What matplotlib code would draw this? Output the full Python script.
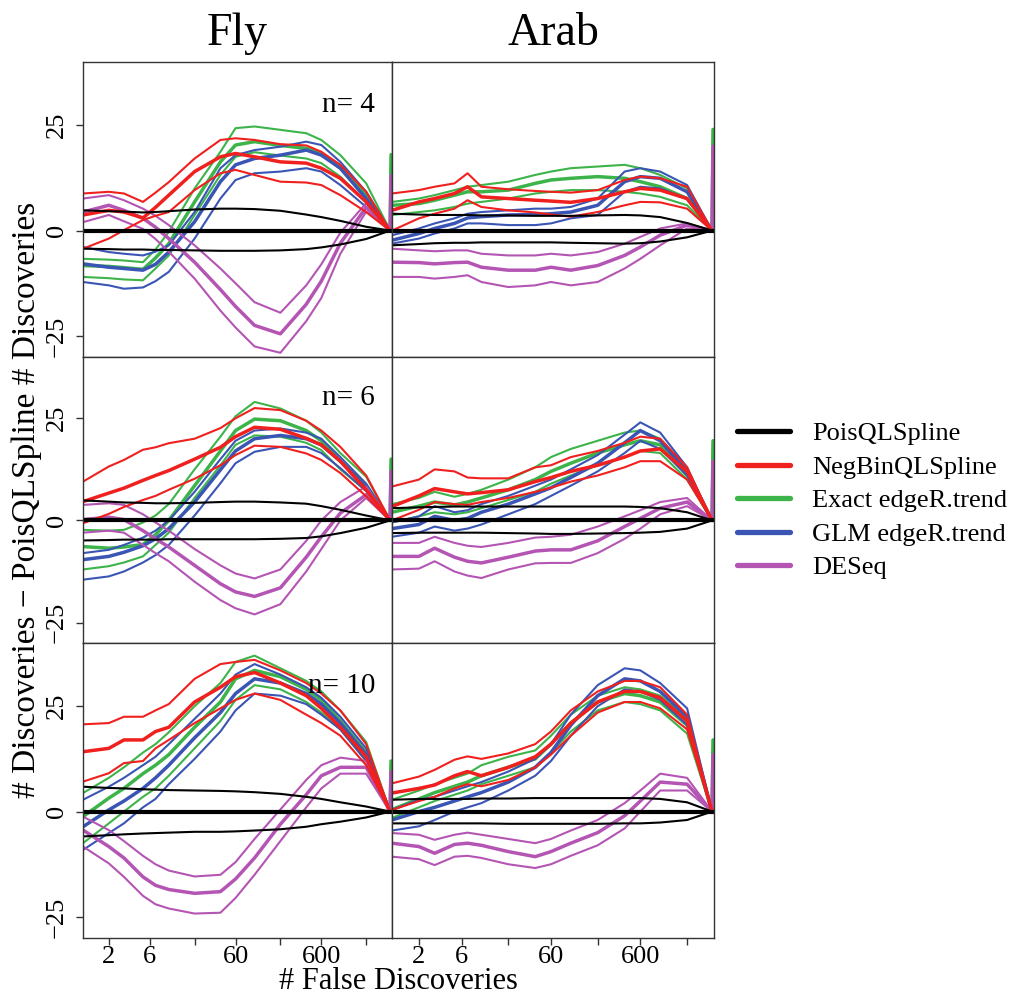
import numpy as np
import matplotlib
matplotlib.use("Agg")
import matplotlib.pyplot as plt
from matplotlib.lines import Line2D
from matplotlib.ticker import NullLocator, FixedLocator, FixedFormatter

plt.rcParams["font.family"] = ["Liberation Serif", "DejaVu Serif"]

# ---------------------------------------------------------------- data
# number of false discoveries at which the curves are evaluated
FDR_GRID = [1, 2, 3, 5, 7, 10, 20, 40, 60, 100, 200, 400, 600, 1000, 2000, 3800]
SPIKE_X = 3900

METHODS = ["PoisQLSpline", "NegBinQLSpline", "Exact edgeR.trend",
           "GLM edgeR.trend", "DESeq"]
COLORS = ["#000000", "#F0201E", "#3CB44A", "#3A55B4", "#B455B4"]
SPECIES = ["Fly", "Arab"]
SAMPLE_SIZES = [4, 6, 10]
X_TICKS = [2, 6, 20, 60, 200, 600, 2000]
X_TICK_LABELS = ["2", "6", "", "60", "", "600", ""]
Y_TICKS = [-25, 0, 25]
Y_TICK_LABELS = ["\u221225", "0", "25"]

# difference in discoveries vs PoisQLSpline: (upper, middle, lower) curves
# PoisQLSpline itself only has (upper, lower); its middle curve is zero.
# spike = end-of-list values for (Exact edgeR.trend, DESeq)

# Fly, n = 4
fly4_pois = ([4.8, 4.6, 4.5, 4.3, 4.4, 4.6, 5.0, 5.2, 5.2, 5.1, 4.7, 3.8, 3.2, 2.3, 0.9, 0],
             [-4.3, -4.4, -4.5, -4.5, -4.6, -4.6, -4.7, -4.8, -4.8, -4.8, -4.7, -4.4, -4.0, -3.3, -2.0, 0])
fly4_negbin = ([8.8, 9.2, 8.8, 6.8, 9.0, 11.5, 17.1, 21.5, 21.9, 21.5, 20.5, 20.2, 18.7, 15.6, 9.2, 0],
               [3.7, 4.8, 4.4, 3.0, 5.5, 8.4, 14.0, 17.5, 18.3, 17.5, 16.3, 16.0, 14.8, 12.4, 6.8, 0],
               [-4.3, -1.9, 0.1, 2.5, 3.5, 4.4, 9.6, 13.6, 14.4, 13.2, 11.6, 11.4, 10.8, 8.4, 4.4, 0])
fly4_exact = ([-6.7, -6.9, -7.1, -7.5, -4.5, -0.3, 10.0, 18.7, 24.3, 24.7, 23.9, 23.1, 21.5, 17.9, 11.2, 0],
              [-8.3, -8.5, -8.8, -9.2, -6.5, -3.1, 6.8, 16.3, 20.3, 21.1, 20.2, 19.5, 18.3, 14.8, 8.4, 0],
              [-11.0, -11.3, -11.6, -11.8, -9.0, -5.9, 3.7, 13.2, 17.5, 18.6, 17.8, 17.1, 16.0, 12.8, 6.8, 0])
fly4_glm = ([-3.9, -5.1, -5.5, -5.9, -5.0, -3.5, 4.4, 14.8, 17.9, 19.1, 19.9, 21.1, 20.3, 16.3, 9.2, 0],
            [-7.9, -8.7, -9.0, -9.4, -8.0, -5.1, 2.1, 11.6, 15.6, 17.1, 17.9, 19.1, 17.9, 14.8, 7.6, 0],
            [-12.2, -13.0, -13.8, -13.5, -12.0, -9.8, -1.9, 7.6, 12.0, 13.6, 14.0, 14.8, 14.0, 10.8, 5.6, 0])
fly4_deseq = ([7.6, 8.4, 7.2, 5.2, 3.5, 1.3, -3.5, -9.0, -12.5, -17.0, -19.5, -13.0, -8.0, -0.5, 6.5, 0],
              [4.4, 6.0, 4.8, 2.9, 0.8, -1.9, -7.5, -14.0, -18.0, -22.5, -24.5, -17.5, -12.0, -3.0, 5.5, 0],
              [2.0, 3.7, 2.2, 0.4, -2.0, -5.0, -11.4, -19.0, -23.0, -27.5, -29.0, -21.5, -16.0, -5.5, 4.5, 0])
fly4_spike = (18.0, 13.0)

# Arab, n = 4
arab4_pois = ([4.0, 3.8, 3.7, 3.7, 3.7, 3.6, 3.6, 3.5, 3.5, 3.5, 3.6, 3.7, 3.6, 3.2, 1.8, 0],
              [-3.5, -3.2, -3.0, -2.9, -2.9, -2.8, -2.8, -2.8, -2.8, -2.9, -3.0, -3.1, -3.0, -2.6, -1.6, 0])
arab4_negbin = ([8.8, 9.6, 10.4, 11.2, 13.6, 10.4, 9.8, 9.4, 9.2, 9.0, 9.6, 12.0, 12.8, 12.4, 10.4, 0],
                [4.8, 6.8, 7.6, 8.8, 10.4, 8.0, 7.6, 7.2, 7.0, 6.7, 7.6, 9.2, 10.0, 9.6, 7.6, 0],
                [0.0, 2.9, 4.0, 5.2, 7.2, 5.6, 4.8, 4.3, 3.8, 3.3, 4.4, 6.0, 6.8, 6.7, 5.2, 0])
arab4_exact = ([6.8, 7.6, 8.4, 9.6, 10.4, 10.8, 11.6, 13.2, 14.0, 14.8, 15.2, 15.6, 14.8, 13.2, 10.0, 0],
               [6.0, 6.4, 7.2, 8.4, 9.2, 9.2, 9.6, 11.2, 12.0, 12.4, 12.8, 12.4, 11.6, 10.4, 7.6, 0],
               [3.7, 4.4, 4.8, 5.6, 6.4, 6.8, 7.6, 8.8, 9.2, 9.6, 9.6, 9.2, 8.8, 8.0, 6.0, 0])
arab4_glm = ([-1.1, 0.5, 1.7, 2.9, 4.0, 4.4, 4.8, 5.2, 5.2, 5.6, 7.6, 14.0, 14.8, 14.0, 10.8, 0],
             [-2.3, -0.7, 0.5, 1.7, 3.0, 3.3, 3.7, 3.8, 4.0, 4.4, 6.0, 11.6, 12.8, 12.4, 9.2, 0],
             [-3.1, -1.9, -0.7, 0.5, 1.7, 1.7, 1.3, 1.3, 1.7, 2.9, 3.7, 9.2, 10.4, 10.0, 7.6, 0])
arab4_deseq = ([-4.3, -4.7, -4.9, -4.7, -4.7, -5.5, -5.9, -5.9, -5.5, -5.9, -5.1, -3.1, -1.5, 0.5, 1.7, 0],
               [-7.5, -7.6, -7.9, -7.6, -7.5, -8.7, -9.4, -9.4, -8.7, -9.4, -8.3, -5.9, -3.9, -1.1, 1.3, 0],
               [-11.0, -11.0, -11.4, -11.0, -10.6, -12.2, -13.4, -13.0, -12.2, -13.0, -12.2, -9.0, -6.7, -3.5, 0.5, 0])
arab4_spike = (24.0, 20.0)

# Fly, n = 6
fly6_pois = ([4.9, 4.6, 4.4, 4.3, 4.2, 4.2, 4.3, 4.5, 4.6, 4.6, 4.4, 4.1, 3.5, 2.6, 1.2, 0],
             [-4.9, -4.8, -4.7, -4.7, -4.7, -4.6, -4.6, -4.6, -4.6, -4.6, -4.5, -4.3, -3.9, -3.1, -1.8, 0])
fly6_negbin = ([9.5, 13.2, 14.8, 17.3, 17.9, 18.9, 20.0, 22.6, 25.0, 27.5, 27.0, 24.4, 22.0, 18.0, 11.0, 0],
               [4.6, 6.7, 7.9, 9.8, 11.0, 12.2, 15.0, 17.9, 20.5, 22.8, 22.3, 20.1, 18.5, 14.5, 7.5, 0],
               [-0.7, 1.6, 3.3, 5.0, 6.0, 7.5, 10.2, 13.5, 16.0, 18.3, 18.0, 16.4, 14.8, 11.6, 5.9, 0])
fly6_exact = ([-2.3, -2.5, -2.3, -0.5, 1.2, 4.0, 12.5, 20.5, 25.5, 29.0, 27.4, 24.4, 21.5, 16.5, 10.7, 0],
              [-6.4, -6.8, -6.5, -5.9, -3.5, 0.0, 8.5, 17.0, 22.0, 24.8, 24.4, 22.0, 19.5, 14.5, 8.5, 0],
              [-12.0, -11.2, -10.3, -8.8, -6.0, -3.0, 5.5, 13.5, 18.5, 20.8, 20.5, 19.0, 17.2, 12.5, 7.2, 0])
fly6_glm = ([-8.0, -7.2, -6.0, -4.2, -2.5, 0.0, 7.0, 15.0, 19.5, 22.0, 22.5, 21.5, 20.0, 15.5, 9.0, 0],
            [-9.6, -8.8, -7.8, -6.2, -4.5, -2.0, 4.5, 12.4, 17.0, 20.0, 20.8, 20.0, 18.5, 14.5, 8.0, 0],
            [-14.5, -13.7, -12.5, -10.3, -8.5, -6.0, 1.2, 9.1, 14.0, 16.8, 18.0, 18.0, 16.5, 12.8, 7.2, 0])
fly6_deseq = ([3.8, 4.2, 3.8, 1.5, -0.5, -2.5, -7.0, -11.0, -13.0, -14.2, -12.0, -5.0, 0.0, 4.5, 8.3, 0],
              [0.2, 0.8, 0.2, -2.5, -4.5, -6.5, -11.0, -15.5, -17.5, -18.6, -16.5, -9.0, -4.0, 1.8, 6.3, 0],
              [-3.0, -2.5, -3.0, -6.0, -8.0, -10.0, -15.0, -19.5, -21.5, -23.0, -20.5, -12.5, -7.0, 0.0, 5.5, 0])
fly6_spike = (15.0, 12.0)

# Arab, n = 6
arab6_pois = ([3.0, 3.2, 3.3, 3.4, 3.4, 3.4, 3.4, 3.4, 3.4, 3.4, 3.4, 3.4, 3.3, 3.0, 2.0, 0],
              [-3.1, -3.0, -3.0, -3.0, -3.0, -3.0, -3.1, -3.2, -3.3, -3.3, -3.2, -3.1, -3.0, -2.8, -2.0, 0])
arab6_negbin = ([8.3, 10.0, 12.5, 12.0, 10.5, 10.3, 10.3, 13.0, 13.5, 15.5, 17.0, 19.0, 20.5, 20.0, 13.0, 0],
                [3.4, 6.0, 7.8, 7.0, 6.5, 6.8, 7.5, 9.5, 10.5, 12.0, 13.5, 15.5, 17.0, 17.5, 12.0, 0],
                [0.0, 2.6, 4.5, 4.0, 3.8, 4.5, 5.5, 7.0, 8.0, 9.5, 11.0, 13.0, 14.5, 14.5, 10.0, 0])
arab6_exact = ([4.0, 5.5, 7.0, 5.8, 6.5, 7.5, 10.0, 13.0, 15.5, 17.5, 19.5, 21.5, 22.0, 20.0, 12.0, 0],
               [2.0, 3.5, 4.5, 3.8, 4.5, 5.5, 7.5, 10.0, 12.0, 14.0, 16.5, 18.5, 19.5, 18.5, 11.0, 0],
               [-0.5, 1.0, 2.0, 1.5, 2.0, 3.0, 5.0, 7.0, 9.0, 11.0, 13.5, 15.5, 17.0, 16.5, 10.0, 0])
arab6_glm = ([-0.5, 1.0, 3.5, 2.0, 2.5, 4.0, 6.0, 8.5, 10.0, 12.5, 16.0, 21.0, 24.0, 21.5, 13.0, 0],
             [-2.0, -1.0, 1.0, 0.0, 0.5, 2.0, 4.0, 6.5, 8.0, 10.5, 14.0, 19.0, 22.0, 19.5, 12.0, 0],
             [-4.0, -3.0, -1.5, -2.5, -2.0, -1.0, 1.5, 4.0, 6.0, 8.5, 12.0, 16.5, 19.5, 17.5, 11.0, 0])
arab6_deseq = ([-5.5, -5.5, -4.0, -5.5, -6.2, -6.5, -5.5, -4.2, -4.0, -3.5, -1.5, 1.0, 2.5, 4.5, 5.5, 0],
               [-8.8, -8.8, -6.8, -9.0, -10.0, -10.4, -9.0, -7.5, -7.2, -7.2, -5.0, -1.5, 0.5, 3.0, 4.5, 0],
               [-12.0, -11.8, -10.0, -12.5, -13.5, -14.1, -12.0, -10.5, -10.4, -10.4, -8.0, -4.5, -2.0, 1.5, 3.5, 0])
arab6_spike = (19.5, 14.5)

# Fly, n = 10
fly10_pois = ([5.9, 5.6, 5.5, 5.3, 5.2, 5.1, 5.0, 4.9, 4.8, 4.6, 4.2, 3.5, 3.0, 2.2, 1.2, 0],
              [-5.9, -5.6, -5.4, -5.2, -5.1, -5.0, -4.8, -4.8, -4.7, -4.5, -4.2, -3.6, -3.0, -2.4, -1.4, 0])
fly10_negbin = ([20.7, 21.0, 22.5, 22.5, 24.0, 25.5, 31.5, 35.0, 35.5, 36.0, 33.5, 30.5, 28.0, 24.0, 16.0, 0],
                [14.2, 15.0, 17.0, 17.0, 19.0, 20.0, 26.0, 29.5, 32.0, 33.0, 30.5, 27.5, 24.5, 20.0, 13.0, 0],
                [7.1, 9.1, 11.5, 12.0, 15.0, 17.0, 21.0, 24.5, 26.5, 28.0, 26.5, 23.0, 21.0, 18.0, 11.0, 0])
fly10_exact = ([4.4, 8.0, 10.5, 14.0, 16.0, 18.8, 25.0, 30.5, 35.5, 37.0, 34.0, 31.0, 28.5, 24.0, 16.5, 0],
               [-1.2, 3.2, 5.5, 9.0, 11.0, 13.5, 20.0, 26.0, 31.5, 33.5, 32.0, 29.0, 26.5, 21.5, 14.0, 0],
               [-7.5, -2.8, 0.0, 3.5, 5.5, 8.5, 15.0, 21.5, 26.5, 30.0, 29.0, 26.0, 23.5, 19.5, 12.0, 0])
fly10_glm = ([2.8, 5.9, 8.0, 11.0, 13.0, 16.0, 22.0, 28.0, 32.5, 35.0, 32.5, 29.5, 27.0, 22.5, 15.0, 0],
             [-3.6, 0.4, 2.5, 5.5, 8.0, 11.0, 17.5, 23.5, 28.0, 31.5, 30.5, 28.0, 25.5, 21.0, 13.5, 0],
             [-9.1, -5.1, -2.8, 1.0, 3.0, 6.5, 12.5, 19.0, 24.0, 28.0, 27.5, 25.5, 23.0, 19.5, 12.0, 0])
fly10_deseq = ([-1.2, -4.4, -7.0, -10.5, -12.5, -14.0, -15.4, -15.0, -12.0, -6.5, 0.5, 7.5, 11.0, 12.8, 12.0, 0],
               [-4.4, -8.3, -11.0, -15.5, -17.5, -18.5, -19.4, -19.0, -16.0, -11.0, -3.0, 4.0, 8.5, 10.5, 10.5, 0],
               [-8.3, -12.3, -15.5, -20.0, -22.0, -23.0, -24.2, -24.0, -20.5, -15.0, -7.0, 1.0, 5.5, 9.0, 9.0, 0])
fly10_spike = (12.0, 9.5)

# Arab, n = 10
arab10_pois = ([2.8, 3.0, 3.0, 3.0, 3.0, 3.1, 3.1, 3.2, 3.2, 3.2, 3.2, 3.2, 3.2, 3.0, 2.2, 0],
               [-2.8, -2.8, -2.8, -2.8, -2.8, -2.8, -2.9, -2.9, -2.9, -2.9, -2.9, -2.8, -2.8, -2.6, -2.0, 0])
arab10_negbin = ([6.7, 8.3, 9.9, 12.3, 13.1, 12.5, 13.8, 16.0, 19.0, 24.0, 28.5, 31.0, 31.0, 29.5, 23.0, 0],
                 [4.4, 5.5, 6.3, 8.5, 9.5, 8.5, 10.5, 13.0, 16.0, 21.0, 26.0, 28.5, 28.5, 27.0, 21.5, 0],
                 [0.4, 2.5, 3.5, 5.5, 6.5, 6.0, 7.5, 10.5, 13.5, 18.0, 23.5, 26.0, 26.0, 24.5, 19.5, 0])
arab10_exact = ([2.8, 5.0, 6.5, 8.0, 9.0, 11.0, 13.0, 14.5, 18.0, 23.0, 27.5, 29.5, 29.0, 27.5, 22.0, 0],
                [0.5, 3.0, 4.5, 6.0, 7.0, 8.5, 10.5, 12.5, 16.0, 21.0, 26.0, 28.0, 27.5, 26.0, 20.5, 0],
                [-1.5, 1.0, 2.5, 4.0, 5.0, 6.5, 8.5, 10.5, 14.0, 19.0, 24.0, 26.0, 25.5, 24.0, 18.5, 0])
arab10_glm = ([0.4, 2.8, 3.5, 5.0, 6.0, 7.0, 9.5, 12.5, 16.0, 23.0, 30.0, 34.0, 33.5, 30.5, 24.5, 0],
              [-2.0, 0.0, 1.0, 2.5, 3.5, 4.5, 7.0, 10.5, 14.0, 20.5, 27.5, 31.5, 31.0, 28.5, 22.5, 0],
              [-4.5, -3.5, -2.0, 0.0, 1.0, 2.0, 5.0, 8.5, 12.0, 18.0, 25.0, 29.0, 28.5, 26.5, 20.5, 0])
arab10_deseq = ([-5.1, -5.5, -6.7, -5.5, -5.0, -5.5, -6.5, -7.5, -6.5, -4.5, -2.0, 2.0, 5.0, 9.0, 8.0, 0],
                [-7.5, -8.3, -9.9, -7.8, -7.5, -8.0, -9.5, -10.7, -9.5, -7.5, -5.0, -1.0, 2.5, 7.0, 6.5, 0],
                [-10.7, -11.3, -12.7, -10.7, -10.5, -11.0, -12.5, -13.4, -12.5, -10.5, -8.0, -4.0, 0.0, 5.0, 5.0, 0])
arab10_spike = (17.0, 13.5)

PANELS = {
    ("Fly", 4): (fly4_pois, fly4_negbin, fly4_exact, fly4_glm, fly4_deseq, fly4_spike),
    ("Arab", 4): (arab4_pois, arab4_negbin, arab4_exact, arab4_glm, arab4_deseq, arab4_spike),
    ("Fly", 6): (fly6_pois, fly6_negbin, fly6_exact, fly6_glm, fly6_deseq, fly6_spike),
    ("Arab", 6): (arab6_pois, arab6_negbin, arab6_exact, arab6_glm, arab6_deseq, arab6_spike),
    ("Fly", 10): (fly10_pois, fly10_negbin, fly10_exact, fly10_glm, fly10_deseq, fly10_spike),
    ("Arab", 10): (arab10_pois, arab10_negbin, arab10_exact, arab10_glm, arab10_deseq, arab10_spike),
}

# ---------------------------------------------------------------- layout
W, H = 1019, 998
fig = plt.figure(figsize=(W / 100, H / 100), dpi=100)

col_edges = [(83, 392), (392, 714)]
row_edges = [(62, 357), (357, 643), (643, 938)]

THIN, THICK = 1.5, 2.5
FRAME = "#333333"


def add_axes(px_left, px_right, px_top, px_bottom):
    return fig.add_axes([px_left / W, 1 - px_bottom / H,
                         (px_right - px_left) / W, (px_bottom - px_top) / H])


def draw_band(ax, band, color, spike=None):
    x = list(FDR_GRID)
    hi, mid, lo = band
    for ys, lw in ((hi, THIN), (lo, THIN), (mid, THICK)):
        xs, yv = x, list(ys)
        if spike is not None:
            xs = x + [SPIKE_X]
            yv = yv + [spike]
        ax.plot(xs, yv, color=color, lw=lw, solid_joinstyle="round",
                solid_capstyle="round")


for r, n in enumerate(SAMPLE_SIZES):
    for c, sp in enumerate(SPECIES):
        ax = add_axes(col_edges[c][0], col_edges[c][1],
                      row_edges[r][0], row_edges[r][1])
        pois, negbin, exact, glm, deseq, spike = PANELS[(sp, n)]

        draw_band(ax, exact, COLORS[2], spike[0])
        draw_band(ax, glm, COLORS[3])
        draw_band(ax, deseq, COLORS[4], spike[1])
        draw_band(ax, negbin, COLORS[1])
        ax.plot(FDR_GRID, pois[0], color=COLORS[0], lw=THIN)
        ax.plot(FDR_GRID, pois[1], color=COLORS[0], lw=THIN)
        ax.plot(FDR_GRID, np.zeros(len(FDR_GRID)), color=COLORS[0], lw=3.0)

        ax.set_xscale("log")
        ax.set_xlim(1, 4000)
        ax.set_ylim(-30, 40)
        ax.xaxis.set_minor_locator(NullLocator())
        ax.yaxis.set_minor_locator(NullLocator())
        for s in ax.spines.values():
            s.set_color(FRAME)
            s.set_linewidth(1.0)
        ax.tick_params(direction="out", length=5, width=1.0, color=FRAME,
                       labelsize=19)

        if r == len(SAMPLE_SIZES) - 1:
            ax.xaxis.set_major_locator(FixedLocator(X_TICKS))
            ax.xaxis.set_major_formatter(FixedFormatter(X_TICK_LABELS))
            ax.tick_params(axis="x", pad=1)
        else:
            ax.set_xticks([])
        if c == 0:
            ax.set_yticks(Y_TICKS)
            ax.set_yticklabels(Y_TICK_LABELS, rotation=90, va="center")
            ax.tick_params(axis="y", pad=6)
            ax.text(0.945, 0.832, f"n= {n}", transform=ax.transAxes,
                    ha="right", va="baseline", fontsize=21)
        else:
            ax.set_yticks([])

# column titles
for c, sp in enumerate(SPECIES):
    xc = (col_edges[c][0] + col_edges[c][1]) / 2 / W
    fig.text(xc, 1 - 45 / H, sp, ha="center", va="baseline", fontsize=33)

# axis titles
fig.text((83 + 714) / 2 / W, 1 - 989 / H, "# False Discoveries",
         ha="center", va="baseline", fontsize=22)
fig.text(27 / W, 1 - 500 / H,
         "# Discoveries \u2212 PoisQLSpline # Discoveries",
         ha="center", va="center", rotation=90, fontsize=24)

# legend
handles = [Line2D([], [], color=col, lw=3.8, solid_capstyle="round")
           for col in COLORS]
fig.legend(handles, METHODS, loc="upper left",
           bbox_to_anchor=(737 / W, 1 - 422 / H), frameon=False,
           fontsize=19, handlelength=2.0, handletextpad=0.85,
           labelspacing=0.38, borderpad=0, borderaxespad=0)

fig.savefig("out.png", dpi=100)
